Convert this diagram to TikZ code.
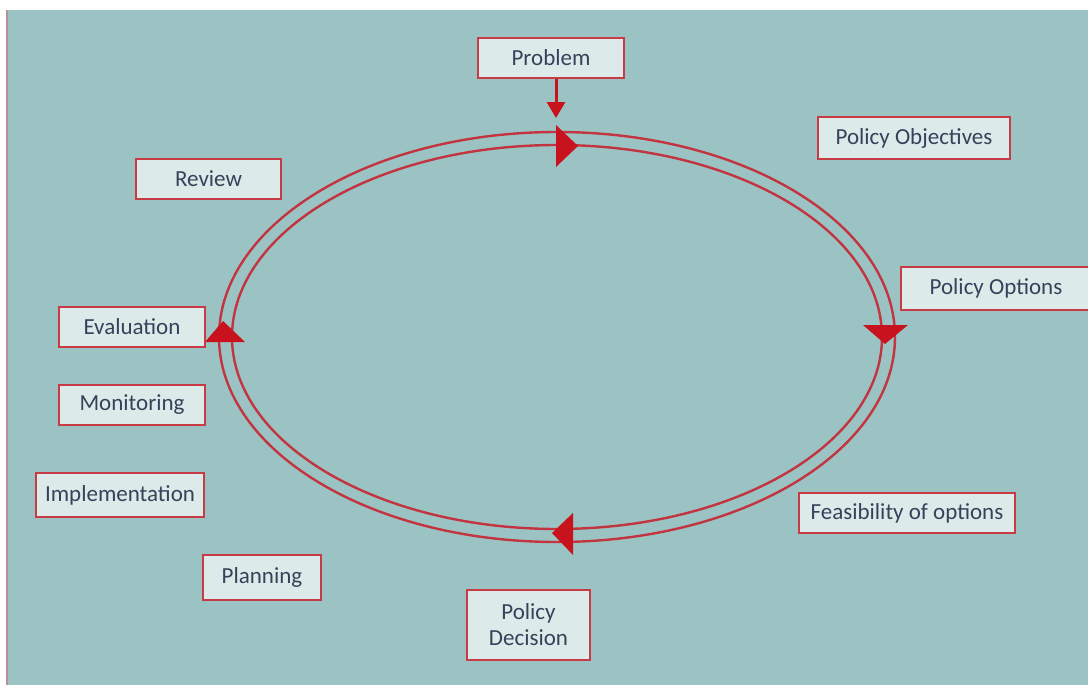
\documentclass[tikz,border=0pt]{standalone}
\usepackage{fontspec}
\setmainfont{Carlito}
\usetikzlibrary{arrows.meta,positioning,calc}
\definecolor{sea}{HTML}{9BC3C3}
\definecolor{boxfill}{HTML}{DCEAEA}
\definecolor{boxred}{HTML}{C83A44}
\definecolor{ringred}{HTML}{C23440}
\definecolor{tipred}{HTML}{C8121E}
\definecolor{ink}{HTML}{36425A}
\tikzset{
  stage/.style={draw=boxred,fill=boxfill,line width=1pt,minimum height=20pt,
    inner sep=0pt,align=center,text=ink,font=\fontsize{11.5}{13}\selectfont},
  ring/.style={draw=ringred,line width=1.2pt},
  tip/.style={fill=tipred}
}
\begin{document}
\begin{tikzpicture}[x=0.5pt,y=-0.5pt]
\clip (0,0) rectangle (1088,685);
% draw background
\fill[white] (0,0) rectangle (1088,685);
\fill[sea] (8,10) rectangle (1088,685);
\draw[boxred!40!gray!70,line width=0.6pt] (7,10) -- (7,685);
% draw the cycle
\draw[ring] (557,337) ellipse [x radius=169pt,y radius=102.5pt];
\draw[ring] (557,337) ellipse [x radius=162.5pt,y radius=96pt];
% draw arrow heads on the cycle
\foreach \a/\b/\c in {{556,125}/{556,167}/{578,146},{863,325}/{908,325}/{885,344},
  {573,513}/{573,555}/{552,533},{205,342}/{245,342}/{223,321}}
  \fill[tip] (\a) -- (\b) -- (\c) -- cycle;
% draw nodes
\node[stage,minimum width=73pt] (problem) at (551,58) {Problem};
\node[stage,minimum width=96pt,minimum height=21pt] (objectives) at (914,138) {Policy Objectives};
\node[stage,minimum width=72.5pt] (review) at (208.5,179) {Review};
\node[stage,minimum width=95pt,minimum height=21.5pt] (options) at (996,288.5) {Policy Options};
\node[stage,minimum width=73pt] (evaluation) at (132,327) {Evaluation};
\node[stage,minimum width=73pt] (monitoring) at (132,405) {Monitoring};
\node[stage,minimum width=84pt,minimum height=22pt] (implementation) at (120,495) {Implementation};
\node[stage,minimum width=59pt,minimum height=22.5pt] (planning) at (262,577.5) {Planning};
\node[stage,minimum width=108pt] (feasibility) at (907,513) {Feasibility of options};
\node[stage,minimum width=61.5pt,minimum height=35pt] (decision) at (528.5,625) {Policy\\Decision};
% draw problem arrow
\coordinate (entry) at (556,118);
\draw[tipred,line width=1.5pt,-{Triangle[width=9pt,length=8pt]}] (problem.south -| entry) -- (entry);
\end{tikzpicture}
\end{document}
